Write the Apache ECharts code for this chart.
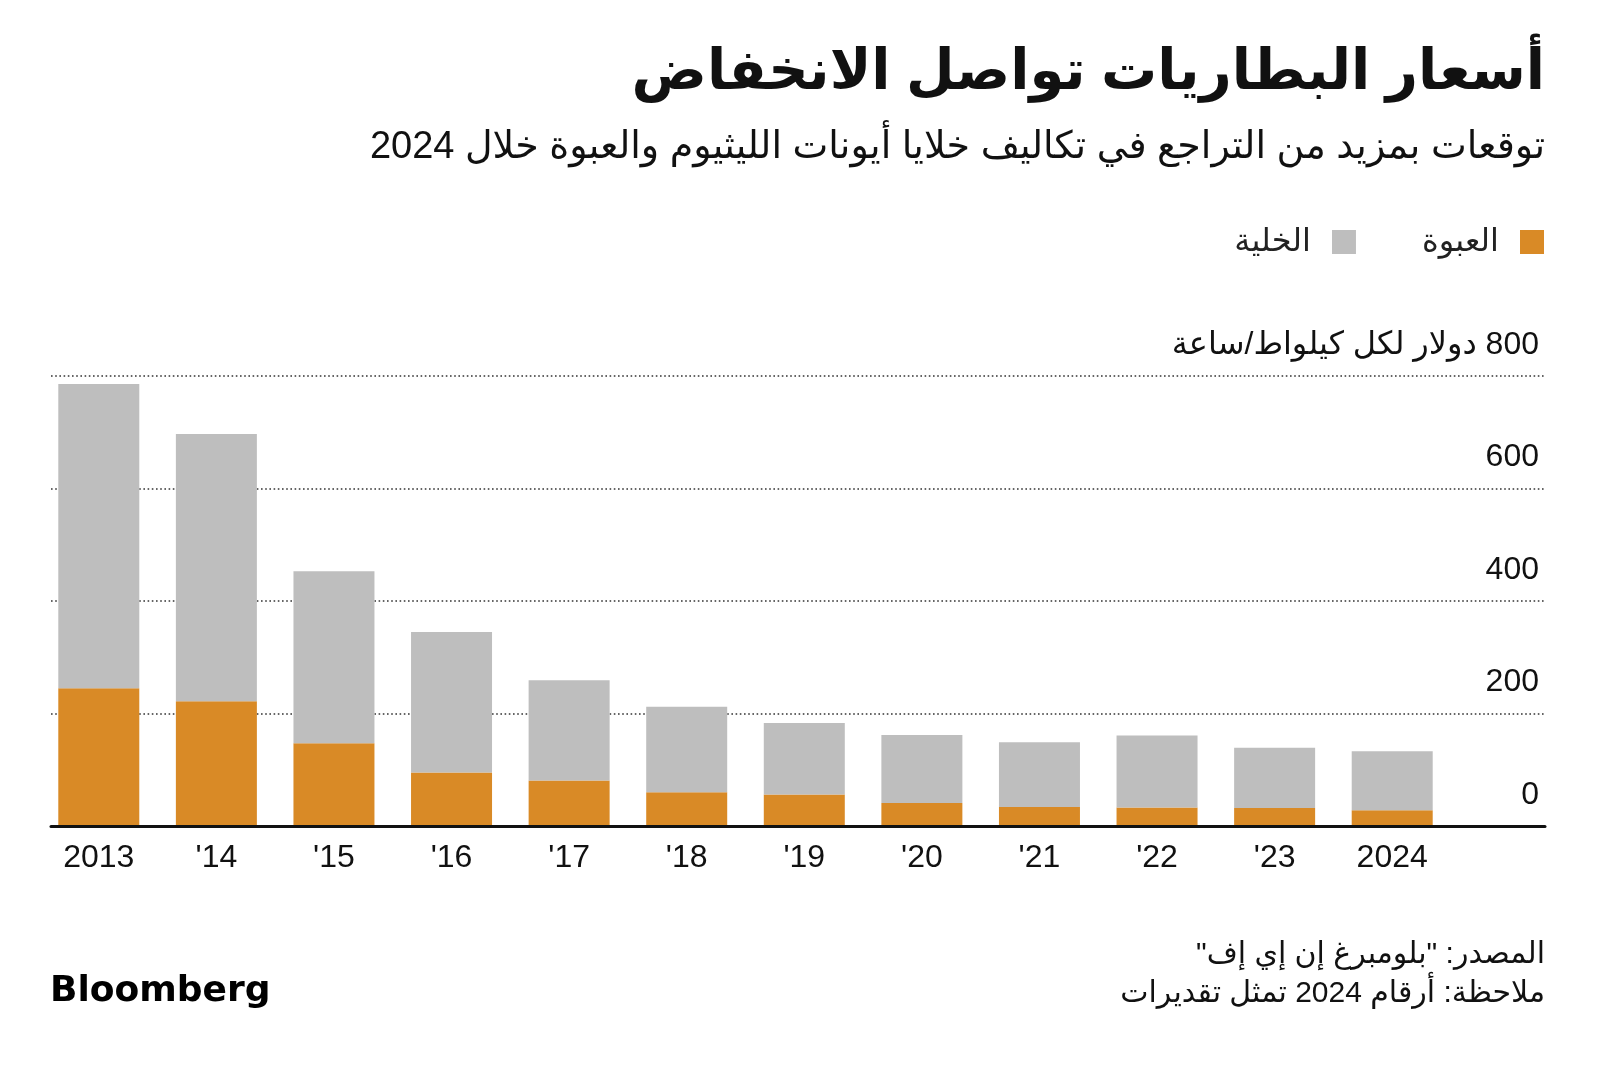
<!DOCTYPE html>
<html>
<head>
<meta charset="utf-8">
<script src="https://cdn.jsdelivr.net/npm/echarts@6/dist/echarts.min.js"></script>
<style>
  html, body { margin: 0; padding: 0; background: #ffffff; }
  #chart { width: 1600px; height: 1067px; }
</style>
</head>
<body>
<div id="chart"></div>
<script>
// ---- data ----
const years = ['2013', "'14", "'15", "'16", "'17", "'18", "'19", "'20", "'21", "'22", "'23", '2024'];
const packValues = [245, 222, 147, 95, 81, 60, 56, 41, 34, 33, 32, 28];      // العبوة
const cellValues = [541, 475, 306, 250, 178, 152, 127, 121, 115, 128, 107, 105]; // الخلية
const yTicks = [0, 200, 400, 600, 800];
const packName = 'العبوة';
const cellName = 'الخلية';
const titleText = 'أسعار البطاريات تواصل الانخفاض';
const subtitleText = 'توقعات بمزيد من التراجع في تكاليف خلايا أيونات الليثيوم والعبوة خلال 2024';
const unitText = 'دولار لكل كيلواط/ساعة';
const sourceText = 'المصدر: "بلومبرغ إن إي إف"';
const noteText = 'ملاحظة: أرقام 2024 تمثل تقديرات';

const RLE = '\u202B', PDF = '\u202C';
const rtl = s => RLE + s + PDF;

const FONT = "'Liberation Sans', 'DejaVu Sans', sans-serif";
const ORANGE = '#D98A26';
const GRAY = '#BEBEBE';

const chart = echarts.init(document.getElementById('chart'), null, { renderer: 'canvas' });

const option = {
  backgroundColor: '#ffffff',
  animation: false,
  textStyle: { fontFamily: FONT },
  legend: {
    data: [cellName, packName],
    right: 56,
    top: 226,
    padding: 0,
    itemWidth: 24,
    itemHeight: 24,
    itemGap: 66,
    align: 'right',
    icon: 'rect',
    textStyle: { fontSize: 32, color: '#222', fontFamily: FONT, padding: [0, 16, 0, 0] }
  },
  grid: [
    { left: 51, right: 55, top: 376, bottom: 241, containLabel: false },
    { left: 40, width: 1411, top: 376, bottom: 241, containLabel: false }
  ],
  xAxis: [
    {
      type: 'category', gridIndex: 0, data: [''],
      axisLine: { show: true, lineStyle: { color: '#111', width: 3 } },
      axisTick: { show: false }, axisLabel: { show: false }, splitLine: { show: false },
      z: 5
    },
    {
      type: 'category', gridIndex: 1, data: years,
      axisLine: { show: false }, axisTick: { show: false },
      axisLabel: { fontSize: 32, color: '#111', margin: 16, fontFamily: FONT }
    }
  ],
  yAxis: [
    {
      type: 'value', gridIndex: 0, min: 0, max: 800, interval: 200,
      position: 'right',
      axisLine: { show: false }, axisTick: { show: false },
      splitLine: { show: true, lineStyle: { color: '#333', width: 1.6, type: [1.6, 2.6] } },
      axisLabel: {
        inside: true, margin: 6, fontSize: 32, color: '#111', fontFamily: FONT,
        verticalAlign: 'bottom', align: 'right', padding: [0, 0, 15, 0],
        formatter: v => (v === 800 ? rtl(v + ' ' + unitText) : String(v))
      }
    },
    {
      type: 'value', gridIndex: 1, min: 0, max: 800, interval: 200, show: false
    }
  ],
  series: [
    {
      name: packName, type: 'bar', stack: 'total', xAxisIndex: 1, yAxisIndex: 1,
      barWidth: 81, itemStyle: { color: ORANGE }, data: packValues
    },
    {
      name: cellName, type: 'bar', stack: 'total', xAxisIndex: 1, yAxisIndex: 1,
      barWidth: 81, itemStyle: { color: GRAY }, data: cellValues
    }
  ],
  graphic: [
    { type: 'text', right: 55, top: 46, style: { text: rtl(titleText), font: "bold 56px " + FONT, fill: '#111', textAlign: 'right' } },
    { type: 'text', right: 55, top: 129, style: { text: rtl(subtitleText), font: "38px " + FONT, fill: '#111', textAlign: 'right' } },
    { type: 'text', right: 55, top: 940, style: { text: rtl(sourceText), font: "30px " + FONT, fill: '#111', textAlign: 'right' } },
    { type: 'text', right: 55, top: 979, style: { text: rtl(noteText), font: "30px " + FONT, fill: '#111', textAlign: 'right' } },
    { type: 'text', left: 50, top: 974, style: { text: 'Bloomberg', font: "bold 36px 'DejaVu Sans', sans-serif", fill: '#000' } }
  ]
};
chart.setOption(option);
</script>
</body>
</html>
